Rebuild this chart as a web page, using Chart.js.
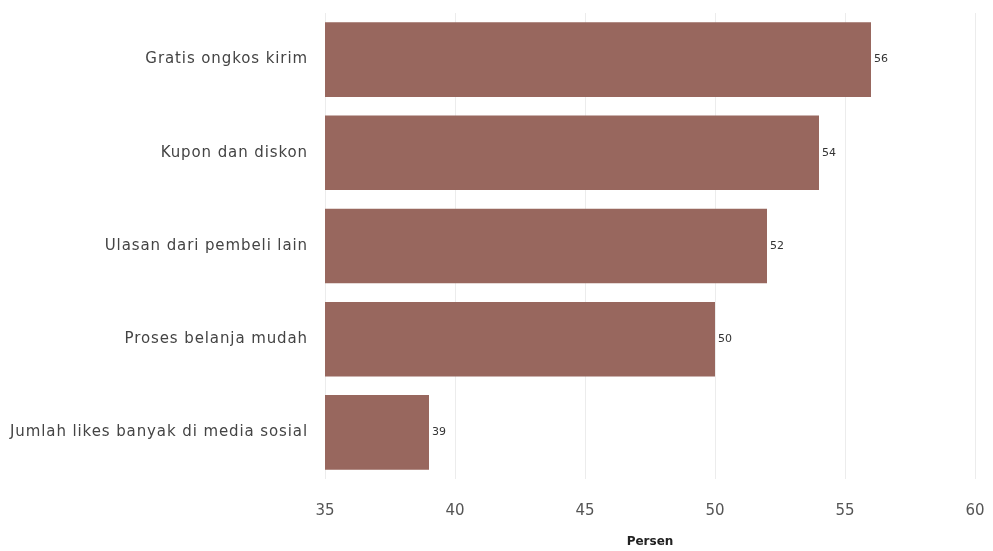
<!DOCTYPE html>
<html>
<head>
<meta charset="utf-8">
<script src="https://cdn.jsdelivr.net/npm/chart.js@4.4.0/dist/chart.umd.min.js"></script>
<style>
    html, body { margin: 0; padding: 0; background: #fff; }
    #wrap { width: 993px; height: 551px; }
</style>
</head>
<body>
<div id="wrap"><canvas id="canvas" width="993" height="551"></canvas></div>
<script>
const categories = [
    'Gratis ongkos kirim',
    'Kupon dan diskon',
    'Ulasan dari pembeli lain',
    'Proses belanja mudah',
    'Jumlah likes banyak di media sosial'
]
const values = [56, 54, 52, 50, 39]
const xTicks = [35, 40, 45, 50, 55, 60]

const barColor = '#98675e'

// writes each value just past the end of its bar
const valueLabels = {
    id: 'valueLabels',
    afterDatasetsDraw: chart => {
        const ctx = chart.ctx
        const meta = chart.getDatasetMeta(0)
        ctx.save()
        ctx.font = '11px "DejaVu Sans"'
        ctx.fillStyle = '#333'
        ctx.textAlign = 'left'
        ctx.textBaseline = 'middle'
        meta.data.forEach((bar, i) => {
            ctx.fillText(values[i], bar.x + 3, bar.y)
        })
        ctx.restore()
    }
}

// wider tracking for the category names
const spaceLabels = (scale, spacing) => {
    if (scale._spaced) return
    const orig = scale.drawLabels
    scale.drawLabels = function (area) {
        this.ctx.save()
        this.ctx.letterSpacing = spacing
        orig.call(this, area)
        this.ctx.restore()
    }
    scale._spaced = true
}

const ctx = document.querySelector('#canvas').getContext('2d')
const myChart = new Chart(ctx, {
    type: 'bar',
    data: {
        labels: categories,
        datasets: [{
            data: values,
            backgroundColor: barColor,
            borderWidth: 0,
            categoryPercentage: 0.8,
            barPercentage: 1.0
        }]
    },
    options: {
        indexAxis: 'y',
        responsive: false,
        animation: false,
        layout: {
            padding: { top: 13, right: 18, bottom: 0, left: 0 }
        },
        plugins: {
            legend: { display: false },
            tooltip: { enabled: false }
        },
        scales: {
            x: {
                min: 35,
                max: 60,
                afterBuildTicks: scale => {
                    scale.ticks = xTicks.map(v => ({ value: v }))
                },
                afterFit: scale => {
                    scale.height = 72
                    scale.paddingLeft = 0
                    scale.paddingRight = 0
                },
                grid: {
                    color: '#ececec',
                    drawTicks: false
                },
                border: { display: false },
                ticks: {
                    padding: 23,
                    color: '#555',
                    font: { family: 'DejaVu Sans', size: 15 }
                },
                title: {
                    display: true,
                    text: 'Persen',
                    color: '#222',
                    padding: { top: 0, bottom: 2 },
                    font: { family: 'DejaVu Sans', size: 12, weight: 'bold' }
                }
            },
            y: {
                afterFit: scale => {
                    scale.width = 325
                    scale.paddingTop = 0
                    scale.paddingBottom = 0
                },
                afterUpdate: scale => spaceLabels(scale, '0.9px'),
                grid: { display: false },
                border: { display: false },
                ticks: {
                    padding: 9,
                    color: '#444',
                    font: { family: 'DejaVu Sans', size: 15 }
                }
            }
        }
    },
    plugins: [valueLabels]
})
</script>
</body>
</html>
